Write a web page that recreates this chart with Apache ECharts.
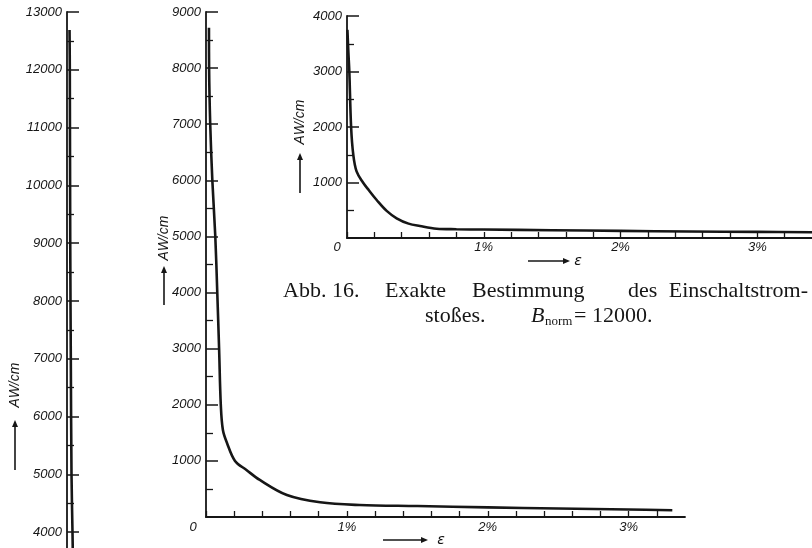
<!DOCTYPE html>
<html>
<head>
<meta charset="utf-8">
<script src="https://cdn.jsdelivr.net/npm/echarts@6/dist/echarts.min.js"></script>
<style>
html,body{margin:0;padding:0;background:#fff;}
#c{width:812px;height:548px;}
</style>
</head>
<body>
<div id="c"></div>
<script>
// ---- data ----
// left tall panel: steep part of the curve (ε in %, AW/cm)
const leftEps = [0.018, 0.02, 0.023, 0.027, 0.032, 0.039, 0.042];
const leftAW  = [12690, 12000, 9000, 7000, 5000, 4000, 3500];
// main panel
const midEps = [0.021, 0.022, 0.03, 0.045, 0.066, 0.08, 0.093, 0.105, 0.12, 0.149, 0.206, 0.287, 0.382, 0.574, 0.81, 1.09, 1.5, 2.0, 2.5, 3.0, 3.31];
const midAW  = [8720, 8000, 7000, 6000, 5000, 4000, 3000, 2000, 1550, 1320, 1000, 838, 660, 392, 262, 214, 195, 172, 152, 134, 120];
// inset panel
const insetEps = [0.003, 0.01, 0.017, 0.03, 0.046, 0.07, 0.117, 0.16, 0.217, 0.29, 0.363, 0.45, 0.533, 0.655, 0.8, 1.0, 1.5, 2.0, 2.5, 3.0, 3.4];
const insetAW  = [3750, 3350, 3000, 2000, 1500, 1200, 1000, 860, 685, 488, 355, 259, 216, 168, 158, 152, 140, 128, 118, 110, 104];
// axis ranges / ticks
const leftRange = [3000, 13000];
const midYRange = [0, 9000];
const insetYRange = [0, 4000];
const epsRange = [0, 3.4];
const yMajor = 1000;
const epsStep = 0.2;
const yName = 'AW/cm';
const xName = 'ε';
const captionLine1 = ['Abb. 16.', 'Exakte', 'Bestimmung', 'des', 'Einschaltstrom-'];
const captionLine2a = 'stoßes.';
const captionB = 'B';
const captionSub = 'norm';
const captionEq = '= 12000.';

const INK = '#161616';
const tickFont = {fontFamily: 'Liberation Sans', fontStyle: 'italic', fontSize: 13, color: INK};

function zip(a, b) { return a.map((v, i) => [v, b[i]]); }

function yAxisCfg(grid, range, hideZero) {
  return {
    type: 'value', gridIndex: grid, min: range[0], max: range[1], interval: yMajor,
    axisLine: {show: true, lineStyle: {color: INK, width: 1.8}},
    axisTick: {show: true, inside: true, length: 12, lineStyle: {color: INK, width: 1.5}},
    minorTick: {show: true, splitNumber: 2, length: 7, lineStyle: {color: INK, width: 1.3}},
    splitLine: {show: false},
    axisLabel: Object.assign({margin: 5, formatter: v => (hideZero && v === 0) ? '' : String(v)}, tickFont)
  };
}
function xAxisCfg(grid, zeroPad, margin) {
  return {
    type: 'value', gridIndex: grid, min: epsRange[0], max: epsRange[1], interval: epsStep,
    axisLine: {show: true, lineStyle: {color: INK, width: 1.8}},
    axisTick: {show: true, inside: true, length: 6, lineStyle: {color: INK, width: 1.3}},
    splitLine: {show: false},
    axisLabel: Object.assign({
      margin: margin,
      showMaxLabel: false,
      formatter: v => {
        if (Math.abs(v) < 1e-9) return '{z|0}';
        const r = Math.round(v);
        return (Math.abs(v - r) < 1e-6) ? r + '%' : '';
      },
      rich: {z: Object.assign({padding: [0, zeroPad, 0, 0]}, tickFont)}
    }, tickFont)
  };
}
function curve(xi, yi, data) {
  return {
    type: 'line', xAxisIndex: xi, yAxisIndex: yi, data: data,
    symbol: 'none', smooth: 0.35,
    lineStyle: {color: INK, width: 2.6}, silent: true
  };
}
function arrow(x1, y1, x2, y2) {
  const ang = Math.atan2(y2 - y1, x2 - x1), L = 7, W = 3;
  const bx = x2 - L * Math.cos(ang), by = y2 - L * Math.sin(ang);
  const px = -Math.sin(ang) * W, py = Math.cos(ang) * W;
  return [
    {type: 'line', shape: {x1: x1, y1: y1, x2: bx, y2: by}, style: {stroke: INK, lineWidth: 1.6}},
    {type: 'polygon', shape: {points: [[x2, y2], [bx + px, by + py], [bx - px, by - py]]}, style: {fill: INK}}
  ];
}
function rotText(text, x, y) {
  return {type: 'text', x: x, y: y, rotation: Math.PI / 2,
    style: {text: text, fontFamily: 'Liberation Sans', fontStyle: 'italic', fontSize: 14, fill: INK, align: 'center', verticalAlign: 'middle'}};
}
function serif(text, x, y, align, extra) {
  return {type: 'text', x: x, y: y,
    style: Object.assign({text: text, fontFamily: 'Liberation Serif', fontSize: 22, fill: INK, align: align, verticalAlign: 'middle'}, extra || {})};
}

const graphics = [].concat(
  rotText(yName, 15, 385), arrow(15, 470, 15, 420),
  rotText(yName, 164, 238), arrow(164, 305, 164, 266),
  rotText(yName, 300, 122), arrow(300, 193, 300, 153),
  arrow(383, 540, 428, 540),
  [{type: 'text', x: 441, y: 540, style: {text: xName, fontFamily: 'DejaVu Sans', fontStyle: 'italic', fontSize: 14, fill: INK, align: 'center', verticalAlign: 'middle'}}],
  arrow(528, 261, 570, 261),
  [{type: 'text', x: 578, y: 261, style: {text: xName, fontFamily: 'DejaVu Sans', fontStyle: 'italic', fontSize: 14, fill: INK, align: 'center', verticalAlign: 'middle'}}],
  [
    serif(captionLine1[0], 283, 291, 'left'),
    serif(captionLine1[1], 385, 291, 'left'),
    serif(captionLine1[2], 472, 291, 'left'),
    serif(captionLine1[3], 628, 291, 'left'),
    serif(captionLine1[4], 808, 291, 'right'),
    serif(captionLine2a, 425, 316, 'left'),
    serif(captionB, 531, 316, 'left', {fontStyle: 'italic'}),
    serif(captionSub, 545, 322, 'left', {fontSize: 13}),
    serif(captionEq, 574, 316, 'left')
  ]
);

const chart = echarts.init(document.getElementById('c'), null, {renderer: 'canvas'});
chart.setOption({
  backgroundColor: '#fff',
  animation: false,
  grid: [
    {left: 67, top: 12, width: 14.1, height: 578, outerBoundsMode: 'none', containLabel: false},
    {left: 206, top: 12, right: 127, bottom: 31, outerBoundsMode: 'none', containLabel: false},
    {left: 347, top: 16, right: 0, bottom: 310, outerBoundsMode: 'none', containLabel: false}
  ],
  xAxis: [
    {type: 'value', gridIndex: 0, min: 0, max: 0.1, show: false},
    xAxisCfg(1, 26, 4),
    xAxisCfg(2, 20, 3)
  ],
  yAxis: [
    yAxisCfg(0, leftRange, false),
    yAxisCfg(1, midYRange, true),
    yAxisCfg(2, insetYRange, true)
  ],
  series: [
    curve(0, 0, zip(leftEps, leftAW)),
    curve(1, 1, zip(midEps, midAW)),
    curve(2, 2, zip(insetEps, insetAW))
  ],
  graphic: graphics
});
</script>
</body>
</html>
